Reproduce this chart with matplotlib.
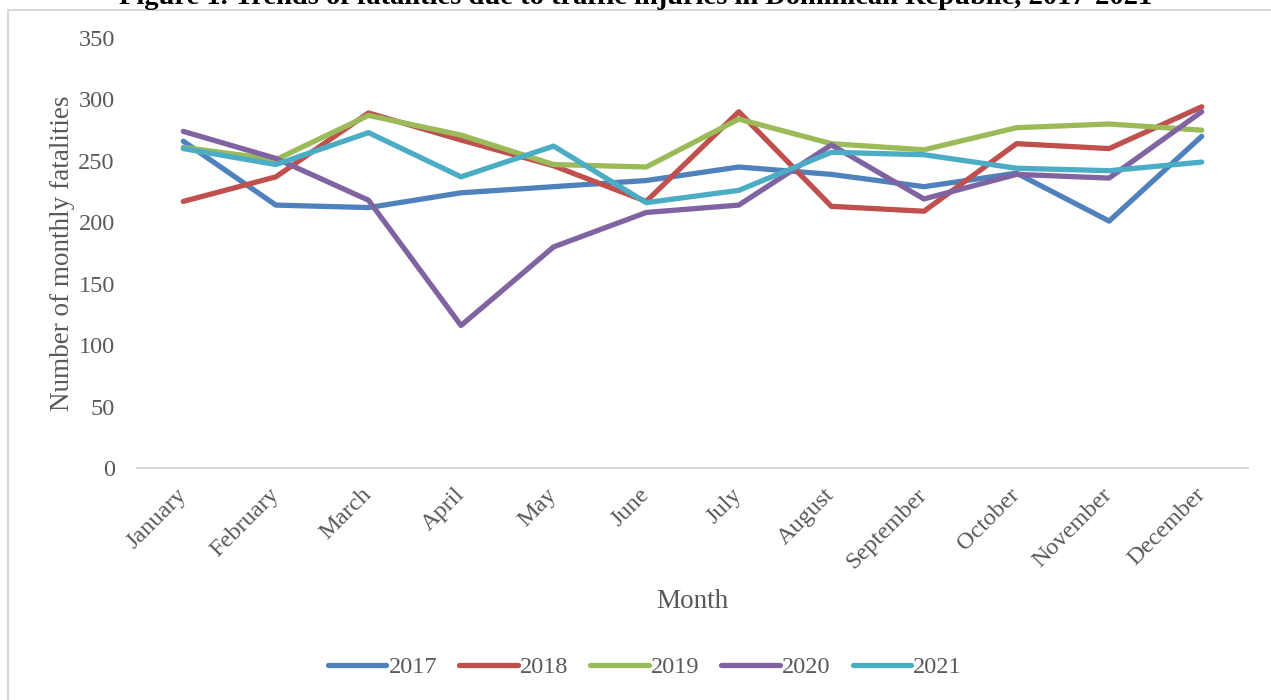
import matplotlib
matplotlib.use("Agg")
import matplotlib.pyplot as plt
from matplotlib.patches import Rectangle

# Monthly fatalities
months = ["January", "February", "March", "April", "May", "June", "July",
          "August", "September", "October", "November", "December"]
y2017 = [266, 214, 212, 224, 229, 234, 245, 239, 229, 240, 201, 270]
y2018 = [217, 237, 289, 267, 246, 217, 290, 213, 209, 264, 260, 294]
y2019 = [261, 251, 287, 271, 247, 245, 284, 264, 259, 277, 280, 275]
y2020 = [274, 252, 218, 116, 180, 208, 214, 263, 219, 239, 236, 290]
y2021 = [260, 247, 273, 237, 262, 216, 226, 257, 255, 244, 242, 249]
years = ["2017", "2018", "2019", "2020", "2021"]
colors = ["#4F81BD", "#C0504D", "#9BBB59", "#8064A2", "#4BACC6"]

plt.rcParams['font.family'] = ['Liberation Serif', 'DejaVu Serif']
grey = "#595959"

fig = plt.figure(figsize=(12.71, 7.0), dpi=100)
ax = fig.add_axes([0.1078, 0.3314, 0.9819 - 0.1078, 0.9457 - 0.3314])

x = list(range(len(months)))
for vals, yr, c in zip([y2017, y2018, y2019, y2020, y2021], years, colors):
    ax.plot(x, vals, color=c, lw=3.8, label=yr, solid_capstyle='round',
            solid_joinstyle='round')

ax.set_xlim(-0.5, len(months) - 0.5)
ax.set_ylim(0, 350)
ax.set_yticks(range(0, 351, 50))
ax.set_xticks(x)
ax.set_xticklabels(months, rotation=45, ha='right', va='center',
                   rotation_mode='anchor')
ax.tick_params(axis='both', length=0, labelsize=17.5, labelcolor=grey)
ax.tick_params(axis='x', pad=17)
ax.tick_params(axis='y', pad=16)
for s in ['top', 'right', 'left']:
    ax.spines[s].set_visible(False)
ax.spines['bottom'].set_color('#D9D9D9')
ax.spines['bottom'].set_linewidth(1.5)

ax.set_ylabel("Number of monthly fatalities", fontsize=19.5, color=grey, labelpad=2.5)
ax.set_xlabel("Month", fontsize=19.5, color=grey, labelpad=12)

ax.legend(loc='center', bbox_to_anchor=(645 / 1271, 1 - 667 / 700),
          bbox_transform=fig.transFigure, ncol=5, frameon=False, fontsize=17.5,
          handlelength=2.4, handletextpad=0.1, columnspacing=0.9,
          labelcolor=grey)

# chart area border
fig.patches.append(Rectangle((8 / 1271, -0.05), 1.1, 1 - 10 / 700 + 0.05,
                             transform=fig.transFigure, fill=False,
                             edgecolor='#D9D9D9', lw=1.5, clip_on=False))

fig.text(0.5, 1 - 4 / 700,
         "Figure 1. Trends of fatalities due to traffic injuries in Dominican Republic, 2017-2021",
         ha='center', va='baseline', fontsize=20.5, fontweight='bold')

fig.savefig("out.png", dpi=100)
